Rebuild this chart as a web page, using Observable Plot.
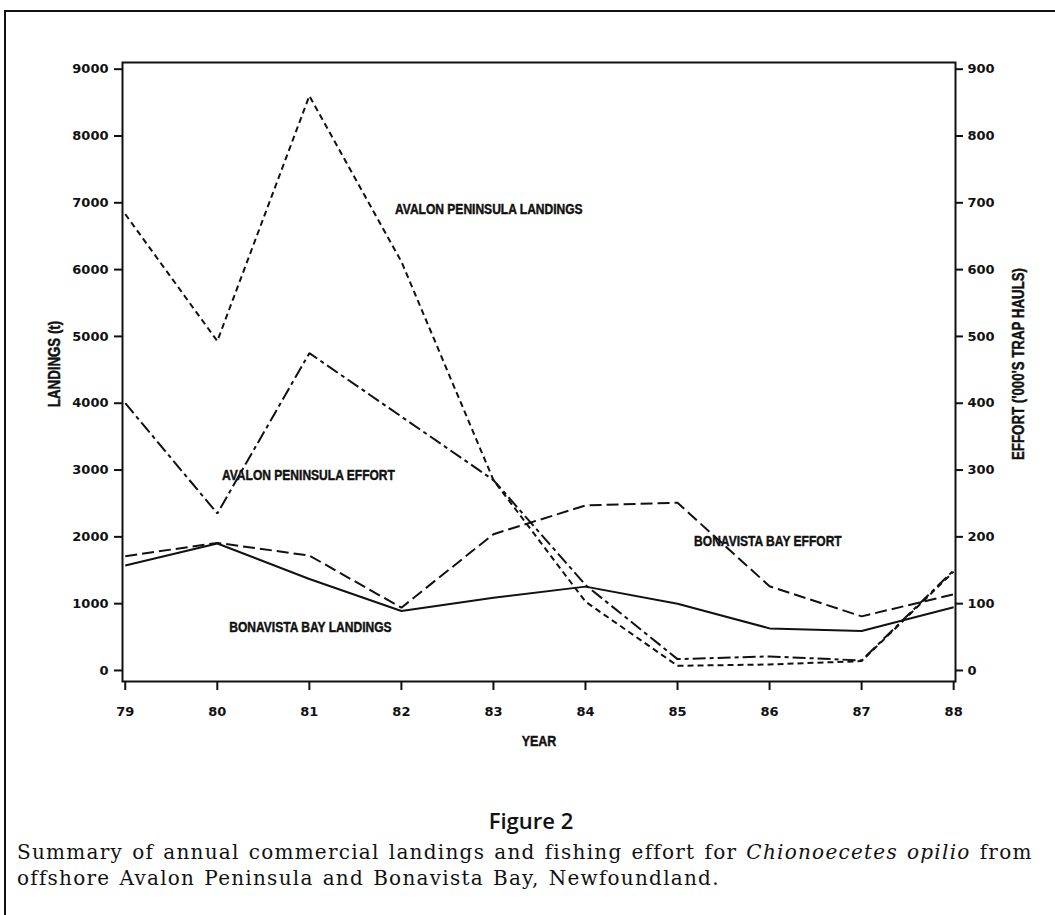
<!DOCTYPE html>
<html><head><meta charset="utf-8">
<script src="https://cdn.jsdelivr.net/npm/d3@7"></script>
<script src="https://cdn.jsdelivr.net/npm/@observablehq/plot@0.6"></script>
<style>
html,body{margin:0;padding:0;background:#fff;}
body{width:1055px;height:915px;overflow:hidden;position:relative;color:#111;}
#frame{position:absolute;left:4px;top:10px;width:1100px;height:1000px;border-top:2px solid #111;border-left:2px solid #111;}
#chart{position:absolute;left:0;top:0;}
#fig{position:absolute;top:805px;left:0;width:1062px;text-align:center;font-family:"Open Sans",sans-serif;font-weight:600;font-size:22px;line-height:30px;}
#cap{position:absolute;left:17px;top:839px;font-family:"DejaVu Serif",serif;font-size:20px;line-height:26px;letter-spacing:1.25px;word-spacing:1.5px;white-space:nowrap;}
</style></head><body>
<div id="frame"></div>
<div id="chart"></div>
<div id="fig">Figure 2</div>
<div id="cap">Summary of annual commercial landings and fishing effort for <i>Chionoecetes opilio</i> from<br>offshore Avalon Peninsula and Bonavista Bay, Newfoundland.</div>
<script>
// ---- data ----
const years = [79, 80, 81, 82, 83, 84, 85, 86, 87, 88];
const avalonLandings    = [6830, 4930, 8600, 6120, 2850, 1030, 70, 90, 140, 1480];   // t
const bonavistaLandings = [1570, 1900, 1370, 890, 1090, 1255, 1000, 630, 590, 945]; // t
const avalonEffort      = [400, 235, 475, 380, 285, 128, 17, 21, 15, 150];          // '000 trap hauls
const bonavistaEffort   = [171, 191, 172, 94, 204, 247, 251, 126, 81, 114];         // '000 trap hauls
const landingTicks = [0, 1000, 2000, 3000, 4000, 5000, 6000, 7000, 8000, 9000];
const effortTicks  = [0, 100, 200, 300, 400, 500, 600, 700, 800, 900];
const seriesLabels = ["AVALON PENINSULA LANDINGS", "AVALON PENINSULA EFFORT", "BONAVISTA BAY LANDINGS", "BONAVISTA BAY EFFORT"];
const labelYears  = [81.93, 80.05, 80.13, 85.18];
const labelValues = [6900, 2920, 645, 1935];

// right axis (effort) shares the left scale: 900 effort units <-> 9000 t
const EFFORT_FACTOR = 10;

const rows = years.map((yr, i) => ({
  year: yr,
  avL: avalonLandings[i], bbL: bonavistaLandings[i],
  avE: avalonEffort[i] * EFFORT_FACTOR, bbE: bonavistaEffort[i] * EFFORT_FACTOR
}));
const labels = seriesLabels.map((t, i) => ({text: t, year: labelYears[i], value: labelValues[i]}));

const narrow = "'Liberation Sans',Arial,sans-serif";
const lineOpts = {x: "year", stroke: "#111", strokeWidth: 2, strokeLinecap: "butt", strokeLinejoin: "miter"};
const txt = {fontFamily: narrow, fontWeight: "bold", fill: "#111", stroke: "#111", strokeWidth: 0.45};

const chart = Plot.plot({
  width: 1055, height: 770,
  marginTop: 62, marginBottom: 89, marginLeft: 122, marginRight: 100,
  x: {domain: [78.97, 88.02]},
  y: {domain: [-165, 9100]},
  style: {fontFamily: "'DejaVu Sans',sans-serif", fontWeight: "bold", fontSize: "13px", color: "#111", background: "transparent"},
  marks: [
    Plot.frame({stroke: "#111", strokeWidth: 2}),
    Plot.axisY(landingTicks, {anchor: "left", tickSize: 8, tickPadding: 6, strokeWidth: 2, tickFormat: d => String(d), label: null}),
    Plot.axisY(effortTicks.map(v => v * EFFORT_FACTOR), {anchor: "right", tickSize: 7, tickPadding: 5, strokeWidth: 2, tickFormat: d => String(d / EFFORT_FACTOR), label: null}),
    Plot.axisX(years, {anchor: "bottom", tickSize: 9, tickPadding: 16, strokeWidth: 2, tickFormat: d => String(d), label: null}),
    Plot.line(rows, {...lineOpts, y: "avL", strokeDasharray: "6,4"}),
    Plot.line(rows, {...lineOpts, y: "avE", strokeDasharray: "13,4,4,4"}),
    Plot.line(rows, {...lineOpts, y: "bbE", strokeDasharray: "12,5"}),
    Plot.line(rows, {...lineOpts, y: "bbL"}),
    Plot.text(labels, {...txt, x: "year", y: "value", text: "text", textAnchor: "start", fontSize: 14.5}),
    Plot.text(["LANDINGS (t)"], {...txt, frameAnchor: "left", textAnchor: "middle", dx: -68, dy: -8, rotate: -90, fontSize: 16}),
    Plot.text(["EFFORT ('000'S TRAP HAULS)"], {...txt, frameAnchor: "right", textAnchor: "middle", dx: 63, dy: -8, rotate: -90, fontSize: 16}),
    Plot.text(["YEAR"], {...txt, frameAnchor: "bottom", textAnchor: "middle", dy: 64, fontSize: 15})
  ]
});
document.getElementById("chart").appendChild(chart);

// condense the bold sans labels (the original uses a condensed face)
d3.select(chart).selectAll('g[aria-label="text"] text').each(function () {
  const w = this.getComputedTextLength();
  this.setAttribute("textLength", (w * 0.83).toFixed(1));
  this.setAttribute("lengthAdjust", "spacingAndGlyphs");
});
</script>
</body></html>
